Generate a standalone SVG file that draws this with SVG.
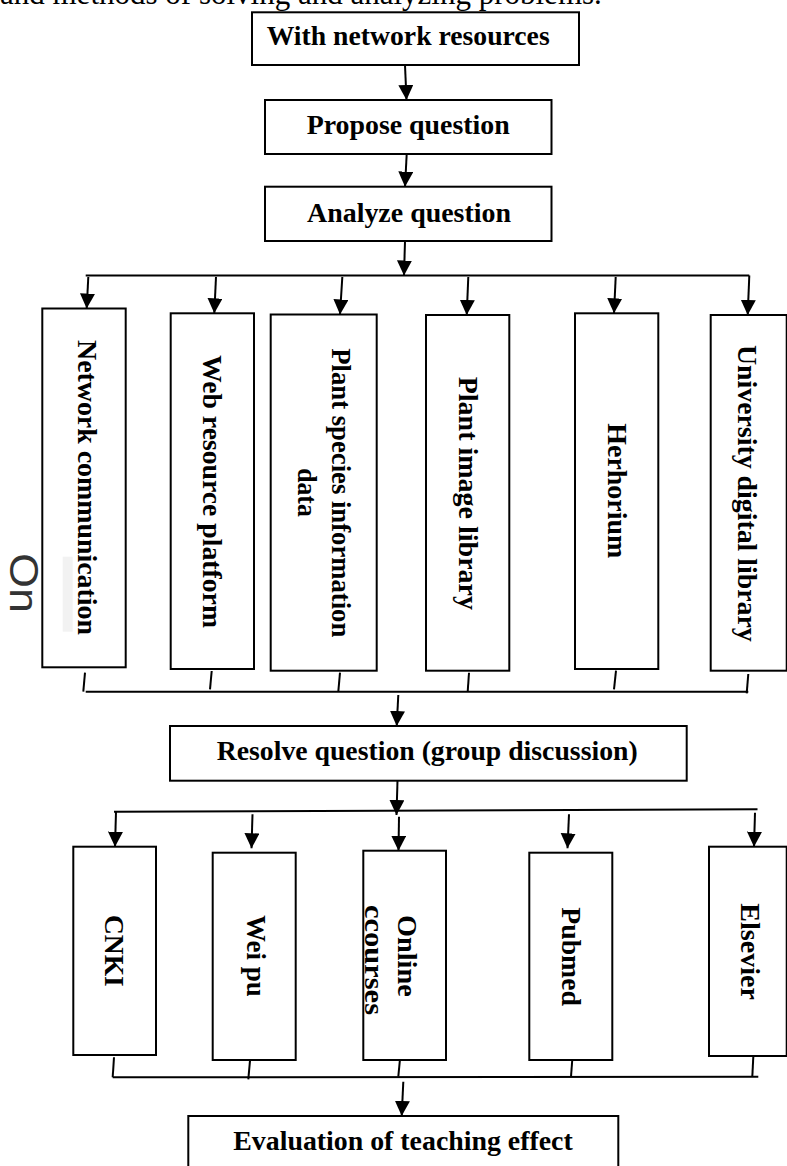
<svg xmlns="http://www.w3.org/2000/svg" width="787" height="1166" viewBox="0 0 787 1166">
<style>
.box{fill:#fff;stroke:#000;stroke-width:2}
.lbl{font-family:"Liberation Serif","Times New Roman",serif;font-weight:bold;font-size:28px;fill:#000}
.ln{fill:none;stroke:#000;stroke-width:2}
.ar{fill:none;stroke:#000;stroke-width:2;marker-end:url(#ah)}
</style>
<defs>
<marker id="ah" markerUnits="userSpaceOnUse" markerWidth="16" markerHeight="16" refX="15" refY="7.5" orient="auto">
<path d="M0,0 L15,7.5 L0,15 z" fill="#000"/>
</marker>
</defs>
<rect width="787" height="1166" fill="#fff"/>
<text x="0" y="4" font-family="Liberation Serif,Times New Roman,serif" font-size="31" fill="#000">and methods of solving and analyzing problems.</text>

<g id="n-with">
<rect class="box" x="252" y="12.3" width="327" height="52.7"/>
<text class="lbl" x="266.7" y="45" textLength="283" lengthAdjust="spacingAndGlyphs">With network resources</text>
</g>
<g id="n-propose">
<rect class="box" x="265" y="100" width="286.5" height="54"/>
<text class="lbl" x="306.7" y="134" textLength="203" lengthAdjust="spacingAndGlyphs">Propose question</text>
</g>
<g id="n-analyze">
<rect class="box" x="265" y="186.7" width="286.5" height="54.3"/>
<text class="lbl" x="307" y="221.7" textLength="204" lengthAdjust="spacingAndGlyphs">Analyze question</text>
</g>

<g id="n-netcomm">
<rect class="box" x="42.3" y="308.5" width="83.4" height="358.8"/>
<rect x="62.7" y="556.7" width="10" height="75" fill="#f2f2f2"/>
<text class="lbl" transform="translate(78,340) rotate(90)" textLength="295" lengthAdjust="spacingAndGlyphs">Network communication</text>
</g>
<g id="n-web">
<rect class="box" x="170.7" y="313.3" width="83.3" height="355.7"/>
<text class="lbl" transform="translate(203,355) rotate(90)" textLength="273" lengthAdjust="spacingAndGlyphs">Web resource platform</text>
</g>
<g id="n-species">
<rect class="box" x="270.7" y="314.5" width="106" height="356.2"/>
<text class="lbl" transform="translate(331.5,348.3) rotate(90)" textLength="289" lengthAdjust="spacingAndGlyphs">Plant species information</text>
<text class="lbl" transform="translate(298,468.3) rotate(90)" textLength="48.4" lengthAdjust="spacingAndGlyphs">data</text>
</g>
<g id="n-image">
<rect class="box" x="426" y="315" width="83.3" height="355.7"/>
<text class="lbl" transform="translate(459,376.7) rotate(90)" textLength="233.3" lengthAdjust="spacingAndGlyphs">Plant image library</text>
</g>
<g id="n-herb">
<rect class="box" x="575" y="313.3" width="83.3" height="355.7"/>
<text class="lbl" transform="translate(608,423.3) rotate(90)" textLength="135" lengthAdjust="spacingAndGlyphs">Herhorium</text>
</g>
<g id="n-univ">
<rect class="box" x="710.7" y="315" width="76" height="355.7"/>
<text class="lbl" transform="translate(738,345) rotate(90)" textLength="296.7" lengthAdjust="spacingAndGlyphs">University digital library</text>
</g>

<text transform="translate(10,553) rotate(90)" font-family="Liberation Sans,Arial,sans-serif" font-size="40" fill="#333" textLength="60" lengthAdjust="spacingAndGlyphs">On</text>

<g id="n-resolve">
<rect class="box" x="170" y="726" width="516.7" height="54.7"/>
<text class="lbl" x="216.7" y="760" textLength="421" lengthAdjust="spacingAndGlyphs">Resolve question (group discussion)</text>
</g>

<g id="n-cnki">
<rect class="box" x="73.3" y="846.7" width="82.7" height="208.3"/>
<text class="lbl" transform="translate(104.5,915) rotate(90)" textLength="71.7" lengthAdjust="spacingAndGlyphs">CNKI</text>
</g>
<g id="n-weipu">
<rect class="box" x="212.7" y="852.7" width="83" height="207.3"/>
<text class="lbl" transform="translate(246.7,915) rotate(90)" textLength="81.7" lengthAdjust="spacingAndGlyphs">Wei pu</text>
</g>
<g id="n-online">
<rect class="box" x="363.3" y="850.7" width="82.7" height="209.3"/>
<text class="lbl" transform="translate(398.3,915) rotate(90)" textLength="81.7" lengthAdjust="spacingAndGlyphs">Online</text>
<text class="lbl" transform="translate(365,905) rotate(90)" textLength="110" lengthAdjust="spacingAndGlyphs">ccourses</text>
</g>
<g id="n-pubmed">
<rect class="box" x="529.3" y="852.7" width="83" height="207.3"/>
<text class="lbl" transform="translate(561.5,907.3) rotate(90)" textLength="98.7" lengthAdjust="spacingAndGlyphs">Pubmed</text>
</g>
<g id="n-elsevier">
<rect class="box" x="709" y="846.7" width="77.7" height="209.3"/>
<text class="lbl" transform="translate(740.5,903.3) rotate(90)" textLength="96.7" lengthAdjust="spacingAndGlyphs">Elsevier</text>
</g>

<g id="n-eval">
<rect class="box" x="188.3" y="1116" width="430" height="54"/>
<text class="lbl" x="233.3" y="1150" textLength="339.4" lengthAdjust="spacingAndGlyphs">Evaluation of teaching effect</text>
</g>

<g id="connectors">
<path class="ar" d="M405,65 L406.5,100"/>
<path class="ar" d="M406.7,154 L405,186.7"/>
<path class="ar" d="M405,241 L404,275.5"/>
<path class="ln" d="M85.7,275.5 L749.3,275.5"/>
<path class="ar" d="M88.3,277 L86.7,308.5"/>
<path class="ar" d="M216,277 L214.3,313.3"/>
<path class="ar" d="M342.3,277 L340,314.5"/>
<path class="ar" d="M468.3,277 L466.7,315"/>
<path class="ar" d="M615.7,277 L614,313.3"/>
<path class="ar" d="M749.3,275.5 L747.7,315"/>
<path class="ln" d="M85,672.7 L83.3,691.7"/>
<path class="ln" d="M211.7,671 L210,689.3"/>
<path class="ln" d="M340,672.7 L338.3,691.7"/>
<path class="ln" d="M469,672.7 L467.7,691.7"/>
<path class="ln" d="M616,670.7 L614,689.3"/>
<path class="ln" d="M748.3,674 L746.7,693.3"/>
<path class="ln" d="M85.7,691.7 L748.3,691.7"/>
<path class="ar" d="M398.3,695 L396.7,726"/>
<path class="ar" d="M397.5,780.7 L396.5,815"/>
<path class="ln" d="M114,811.7 L757.5,809.3"/>
<path class="ar" d="M116,811.7 L115,846.7"/>
<path class="ar" d="M252.5,814.3 L251.5,848.3"/>
<path class="ar" d="M399,816.7 L398.5,850.7"/>
<path class="ar" d="M569,814.3 L567.5,848.3"/>
<path class="ar" d="M755,812.7 L754,846.7"/>
<path class="ln" d="M114,1057.3 L112.7,1077.3"/>
<path class="ln" d="M250,1060.7 L248.3,1079.3"/>
<path class="ln" d="M400,1059 L398.3,1076.7"/>
<path class="ln" d="M572.3,1059.3 L571,1076.7"/>
<path class="ln" d="M753.3,1056.7 L752.3,1076.7"/>
<path class="ln" d="M112.7,1077.3 L758.3,1076.7"/>
<path class="ar" d="M403.3,1081.7 L401.7,1116"/>
</g>
</svg>
